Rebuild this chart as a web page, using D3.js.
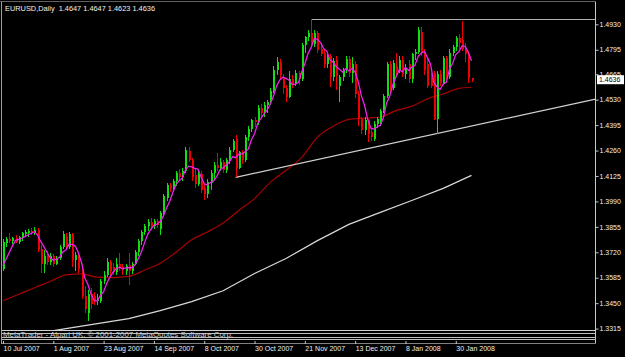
<!DOCTYPE html>
<html><head><meta charset="utf-8">
<script src="https://cdn.jsdelivr.net/npm/d3@7/dist/d3.min.js"></script>
<style>html,body{margin:0;padding:0;background:#000;overflow:hidden}svg{display:block}</style>
</head><body>
<svg id="c" width="625" height="357"></svg>
<script>
// ---------------- DATA ----------------
const titleText = "EURUSD,Daily  1.4647 1.4647 1.4623 1.4636";
const copyrightText = "MetaTrader - Alpari UK, \u00a9 2001-2007 MetaQuotes Software Corp.";
const xTickLabels = ["10 Jul 2007","1 Aug 2007","23 Aug 2007","14 Sep 2007","8 Oct 2007","30 Oct 2007","21 Nov 2007","13 Dec 2007","8 Jan 2008","30 Jan 2008"];
const xTickIndex = [0,16,32,48,64,80,96,112,128,144];
const yTickLabels = ["1.4930","1.4795","1.4665","1.4530","1.4395","1.4260","1.4125","1.3990","1.3855","1.3720","1.3585","1.3450","1.3315"];
const lastPrice = 1.4636;

const opens = [1.3630,1.3770,1.3790,1.3780,1.3795,1.3775,1.3795,1.3815,1.3825,1.3835,1.3820,1.3840,1.3740,1.3660,1.3710,1.3670,1.3700,1.3660,1.3690,1.3750,
1.3800,1.3750,1.3815,1.3680,1.3700,1.3630,1.3490,1.3400,1.3500,1.3490,1.3460,1.3460,1.3565,1.3600,1.3670,1.3640,1.3615,1.3660,1.3640,1.3620,
1.3650,1.3620,1.3660,1.3720,1.3780,1.3830,1.3860,1.3880,1.3860,1.3885,1.3845,1.3930,1.4010,1.4075,1.4060,1.4100,1.4140,1.4120,1.4150,1.4260,
1.4210,1.4130,1.4080,1.4135,1.4060,1.4030,1.4090,1.4140,1.4185,1.4165,1.4200,1.4155,1.4210,1.4265,1.4320,1.4170,1.4250,1.4210,1.4330,1.4375,
1.4420,1.4410,1.4485,1.4460,1.4500,1.4515,1.4575,1.4690,1.4730,1.4650,1.4590,1.4545,1.4640,1.4615,1.4670,1.4640,1.4820,1.4860,1.4885,1.4825,
1.4885,1.4800,1.4780,1.4720,1.4760,1.4650,1.4740,1.4605,1.4650,1.4690,1.4745,1.4670,1.4720,1.4560,1.4425,1.4370,1.4420,1.4360,1.4320,1.4400,
1.4400,1.4470,1.4550,1.4720,1.4590,1.4710,1.4680,1.4740,1.4665,1.4720,1.4640,1.4770,1.4785,1.4890,1.4785,1.4720,1.4650,1.4670,1.4425,1.4665,
1.4620,1.4750,1.4650,1.4780,1.4810,1.4855,1.4845,1.4800,1.4770,1.4647];
const highs = [1.3790,1.3800,1.3820,1.3800,1.3810,1.3805,1.3830,1.3840,1.3845,1.3850,1.3855,1.3850,1.3760,1.3730,1.3725,1.3715,1.3710,1.3700,1.3760,1.3835,
1.3820,1.3830,1.3825,1.3720,1.3715,1.3650,1.3540,1.3520,1.3530,1.3510,1.3500,1.3580,1.3620,1.3690,1.3680,1.3665,1.3690,1.3715,1.3660,1.3660,
1.3715,1.3670,1.3730,1.3790,1.3840,1.3870,1.3895,1.3900,1.3895,1.3895,1.3940,1.4030,1.4090,1.4090,1.4110,1.4150,1.4160,1.4170,1.4280,1.4280,
1.4220,1.4160,1.4150,1.4150,1.4080,1.4110,1.4155,1.4200,1.4245,1.4220,1.4210,1.4220,1.4280,1.4320,1.4340,1.4260,1.4265,1.4340,1.4390,1.4430,
1.4440,1.4500,1.4505,1.4520,1.4530,1.4590,1.4710,1.4755,1.4745,1.4665,1.4610,1.4680,1.4660,1.4690,1.4680,1.4830,1.4870,1.4900,1.4960,1.4900,
1.4895,1.4830,1.4800,1.4780,1.4775,1.4750,1.4760,1.4660,1.4700,1.4760,1.4760,1.4755,1.4735,1.4575,1.4440,1.4440,1.4430,1.4380,1.4415,1.4440,
1.4480,1.4560,1.4730,1.4735,1.4740,1.4780,1.4760,1.4760,1.4720,1.4740,1.4780,1.4800,1.4915,1.4915,1.4800,1.4755,1.4670,1.4680,1.4680,1.4690,
1.4760,1.4760,1.4800,1.4820,1.4870,1.4880,1.4945,1.4830,1.4790,1.4647];
const lows = [1.3620,1.3750,1.3770,1.3765,1.3770,1.3765,1.3780,1.3800,1.3800,1.3810,1.3810,1.3720,1.3610,1.3610,1.3650,1.3650,1.3640,1.3650,1.3680,1.3740,
1.3740,1.3740,1.3640,1.3620,1.3610,1.3470,1.3400,1.3355,1.3420,1.3440,1.3440,1.3450,1.3550,1.3590,1.3600,1.3600,1.3600,1.3620,1.3600,1.3600,
1.3545,1.3605,1.3650,1.3700,1.3760,1.3810,1.3835,1.3840,1.3845,1.3850,1.3810,1.3920,1.3990,1.4040,1.4040,1.4070,1.4100,1.4100,1.4140,1.4200,
1.4100,1.4060,1.4070,1.4035,1.4000,1.4010,1.4050,1.4110,1.4150,1.4150,1.4140,1.4140,1.4190,1.4250,1.4118,1.4160,1.4190,1.4200,1.4310,1.4360,
1.4385,1.4395,1.4440,1.4440,1.4460,1.4500,1.4565,1.4660,1.4640,1.4560,1.4515,1.4540,1.4590,1.4600,1.4610,1.4630,1.4780,1.4840,1.4810,1.4810,
1.4780,1.4760,1.4700,1.4700,1.4595,1.4630,1.4580,1.4515,1.4630,1.4670,1.4650,1.4620,1.4540,1.4390,1.4350,1.4340,1.4305,1.4310,1.4310,1.4380,
1.4390,1.4460,1.4540,1.4560,1.4580,1.4650,1.4670,1.4650,1.4640,1.4620,1.4620,1.4740,1.4770,1.4760,1.4660,1.4590,1.4590,1.4420,1.4350,1.4600,
1.4610,1.4620,1.4640,1.4760,1.4790,1.4800,1.4790,1.4730,1.4620,1.4623];
const closes = [1.3775,1.3790,1.3780,1.3795,1.3775,1.3800,1.3820,1.3830,1.3835,1.3820,1.3840,1.3730,1.3660,1.3700,1.3670,1.3700,1.3660,1.3685,1.3750,1.3815,
1.3750,1.3815,1.3680,1.3705,1.3630,1.3490,1.3420,1.3500,1.3445,1.3460,1.3480,1.3570,1.3600,1.3670,1.3620,1.3615,1.3660,1.3640,1.3625,1.3645,
1.3620,1.3660,1.3720,1.3780,1.3830,1.3860,1.3880,1.3860,1.3885,1.3865,1.3930,1.4020,1.4075,1.4060,1.4100,1.4140,1.4120,1.4150,1.4265,1.4210,
1.4120,1.4080,1.4135,1.4050,1.4030,1.4095,1.4140,1.4185,1.4165,1.4200,1.4155,1.4210,1.4265,1.4310,1.4170,1.4250,1.4210,1.4330,1.4375,1.4420,
1.4410,1.4485,1.4460,1.4500,1.4515,1.4575,1.4690,1.4730,1.4660,1.4590,1.4545,1.4640,1.4615,1.4670,1.4640,1.4820,1.4860,1.4885,1.4825,1.4885,
1.4795,1.4775,1.4720,1.4765,1.4650,1.4735,1.4655,1.4650,1.4690,1.4745,1.4670,1.4720,1.4560,1.4425,1.4370,1.4420,1.4350,1.4330,1.4400,1.4425,
1.4470,1.4550,1.4720,1.4580,1.4725,1.4680,1.4740,1.4665,1.4700,1.4640,1.4770,1.4785,1.4900,1.4785,1.4690,1.4605,1.4605,1.4425,1.4665,1.4620,
1.4750,1.4650,1.4780,1.4810,1.4855,1.4830,1.4800,1.4770,1.4645,1.4636];
const warmupCloses = [1.3620,1.3605,1.3620,1.3630];
const fastMAPeriod = 5;

// slow (red) moving average, by bar index
const redMAIndex  = [0,5,10,15,20,25,30,35,40,45,50,55,60,65,70,75,80,85,90,95,100,105,110,115,120,125,130,135,140,145,149];
const redMAValues = [1.3463,1.3497,1.3532,1.3565,1.3600,1.3605,1.3588,1.3586,1.3592,1.3625,1.3662,1.3720,1.3786,1.3828,1.3875,1.3942,1.4005,1.4091,1.4155,1.4224,1.4331,1.4389,1.4425,1.4432,1.4438,1.4472,1.4495,1.4535,1.4560,1.4590,1.4596];
// long (white) moving average
const whiteMAIndex  = [0,10,20,30,40,50,60,70,80,90,100,110,120,130,140,149];
const whiteMAValues = [1.3262,1.3288,1.3315,1.3341,1.3368,1.3410,1.3458,1.3516,1.3607,1.3687,1.3782,1.3868,1.3932,1.3995,1.4059,1.4128];
// trend line anchors (bar index, price)
const trendIdx = [74,138];
const trendPrice = [1.4118,1.4350];

// ---------------- DRAW ----------------
const svg = d3.select("#c");
const W = 625, H = 357;
const axisX = 595.5, plotTop = 2, plotBottom = 330.5;
const n = closes.length;

const x = d3.scaleLinear().domain([0, n-1]).range([3, 471.5]);
const y = d3.scaleLinear().domain([1.3315, 1.4930]).range([328.6, 24.3]);

svg.append("rect").attr("width",W).attr("height",H).attr("fill","#000");

svg.append("defs").append("clipPath").attr("id","plot")
  .append("rect").attr("x",2).attr("y",plotTop).attr("width",axisX-2).attr("height",plotBottom-plotTop);

const g = svg.append("g").attr("clip-path","url(#plot)");

// long MA (white)
const lineGen = d3.line().x(d=>x(d[0])).y(d=>y(d[1]));
g.append("path").datum(whiteMAIndex.map((v,i)=>[v,whiteMAValues[i]]))
  .attr("d",lineGen).attr("fill","none").attr("stroke","#d8d8d8").attr("stroke-width",1.2);

// slow MA (red)
g.append("path").datum(redMAIndex.map((v,i)=>[v,redMAValues[i]]))
  .attr("d",d3.line().x(d=>x(d[0])).y(d=>y(d[1])).curve(d3.curveMonotoneX))
  .attr("fill","none").attr("stroke","#a80000").attr("stroke-width",1.2);

// trend line extended to the price axis
const slope = (trendPrice[1]-trendPrice[0])/(trendIdx[1]-trendIdx[0]);
const endIdx = x.invert(axisX);
g.append("line")
  .attr("x1",x(trendIdx[0])).attr("y1",y(trendPrice[0]))
  .attr("x2",x(endIdx)).attr("y2",y(trendPrice[0]+slope*(endIdx-trendIdx[0])))
  .attr("stroke","#d0d0d0").attr("stroke-width",1.3);

// horizontal line at highest high
const hiIdx = d3.maxIndex(highs);
g.append("line").attr("x1",x(hiIdx)).attr("x2",axisX).attr("y1",Math.round(y(highs[hiIdx]))+0.5).attr("y2",Math.round(y(highs[hiIdx]))+0.5)
  .attr("stroke","#b0b0b0").attr("stroke-width",1);

// candles
const bars = d3.range(n).map(i=>({i,o:opens[i],h:highs[i],l:lows[i],c:closes[i]}));
const cg = g.append("g").attr("shape-rendering","crispEdges");
const col = d=> d.c>=d.o ? "#10e010" : "#f00000";
cg.selectAll("line.w").data(bars).join("line")
  .attr("x1",d=>Math.round(x(d.i))+0.5).attr("x2",d=>Math.round(x(d.i))+0.5)
  .attr("y1",d=>y(d.h)).attr("y2",d=>y(d.l)).attr("stroke",col).attr("stroke-width",1);
cg.selectAll("rect.b").data(bars).join("rect")
  .attr("x",d=>Math.round(x(d.i))-0.5).attr("width",2)
  .attr("y",d=>y(Math.max(d.o,d.c))).attr("height",d=>Math.max(1,Math.abs(y(d.o)-y(d.c))))
  .attr("fill",col);

// fast MA (magenta), simple moving average of closes
const allC = warmupCloses.concat(closes);
const fast = closes.map((c,i)=>[i, d3.mean(allC.slice(i+warmupCloses.length-fastMAPeriod+1, i+warmupCloses.length+1))]);
g.append("path").datum(fast).attr("d",lineGen).attr("fill","none").attr("stroke","#f020f0").attr("stroke-width",1.3);

// frame
const frame = svg.append("g").attr("stroke-width",1).attr("shape-rendering","crispEdges");
frame.append("line").attr("x1",0).attr("x2",axisX).attr("y1",1.5).attr("y2",1.5).attr("stroke","#606060");
frame.append("line").attr("x1",1.5).attr("x2",1.5).attr("y1",1.5).attr("y2",344).attr("stroke","#a0a0a0");
frame.append("line").attr("x1",axisX).attr("x2",axisX).attr("y1",1.5).attr("y2",343).attr("stroke","#c8c8c8");
[[330.5,"#d0d0d0"],[333,"#c0c0c0"],[337,"#c0c0c0"],[339.5,"#c0c0c0"],[343,"#808080"]].forEach(([yy,c])=>{
  frame.append("line").attr("x1",1.5).attr("x2",axisX).attr("y1",yy).attr("y2",yy).attr("stroke",c);
});

const font = "'Liberation Sans', Arial, sans-serif";
// copyright text in the small sub-window
svg.append("text").attr("x",3).attr("y",336.5).attr("font-family",font).attr("font-size",7)
  .attr("fill","#c8c8c8").attr("textLength",230).attr("lengthAdjust","spacingAndGlyphs").text(copyrightText);

// title
svg.append("text").attr("x",5).attr("y",10.5).attr("font-family",font).attr("font-size",7.3)
  .attr("fill","#f0f0f0").attr("textLength",150).attr("lengthAdjust","spacingAndGlyphs")
  .attr("xml:space","preserve").style("white-space","pre").text(titleText);

// y axis
const yAxis = d3.axisRight(y).tickValues(yTickLabels.map(Number)).tickFormat((d,i)=>yTickLabels[i]).tickSize(3).tickPadding(1);
const ya = svg.append("g").attr("transform",`translate(${axisX},0)`).call(yAxis);
ya.select(".domain").remove();
ya.selectAll("line").attr("stroke","#c8c8c8");
ya.selectAll("text").attr("fill","#f0f0f0").attr("font-family",font).attr("font-size",7);

// last price box
const lp = y(lastPrice);
svg.append("rect").attr("x",597).attr("y",lp-4.5).attr("width",27).attr("height",9).attr("fill","#ffffff");
svg.append("text").attr("x",599).attr("y",lp+2.5).attr("font-family",font).attr("font-size",7).attr("fill","#000").text(d3.format(".4f")(lastPrice));

// x axis
const xAxis = d3.axisBottom(x).tickValues(xTickIndex).tickFormat((d,i)=>xTickLabels[i]).tickSize(3).tickPadding(2);
const xa = svg.append("g").attr("transform","translate(0,341)").call(xAxis);
xa.select(".domain").remove();
xa.selectAll("line").attr("stroke","#c8c8c8");
xa.selectAll("text").attr("fill","#f0f0f0").attr("font-family",font).attr("font-size",7)
  .attr("text-anchor","start").attr("x",0);
</script>
</body></html>
